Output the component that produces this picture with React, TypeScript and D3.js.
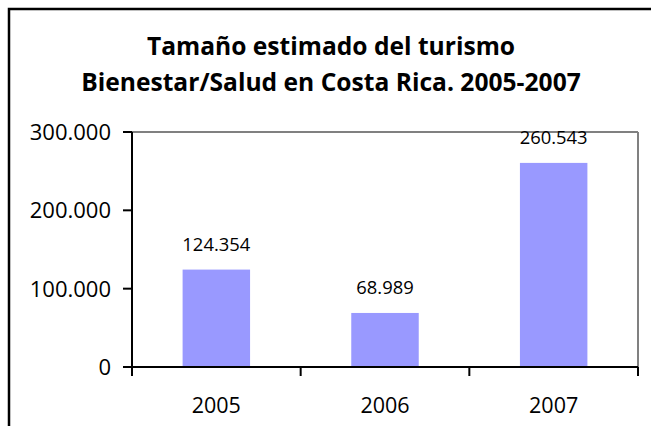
import React from 'react';
import * as d3 from 'd3';

const categories = ['2005', '2006', '2007'];
const values = [124354, 68989, 260543];
const yTicks = [0, 100000, 200000, 300000];
const titleLines = ['Tamaño estimado del turismo', 'Bienestar/Salud en Costa Rica. 2005-2007'];

const W = 651;
const H = 426;
const FONT = '"Open Sans", sans-serif';

const locale = d3.formatLocale({ decimal: ',', thousands: '.', grouping: [3], currency: ['', ''] });
const fmt = locale.format(',d');

export default function App() {
  const left = 132, right = 638, top = 132, bottom = 367;
  const x = d3.scaleBand<string>().domain(categories).range([left, right]).paddingInner(0.6).paddingOuter(0.3);
  const y = d3.scaleLinear().domain([0, 300000]).range([bottom, top]);
  const step = x.step();
  const boundaries = d3.range(categories.length + 1).map(i => left + i * step);

  return (
    <svg width={W} height={H} style={{ position: 'absolute', left: 0, top: 0, background: '#fff' }}>
      <rect x={0} y={0} width={W} height={H} fill="#fff" />
      <rect x={9} y={9} width={720} height={520} fill="none" stroke="#000" strokeWidth={2.5} />
      {titleLines.map((t, i) => (
        <text key={i} x={331} y={54.5 + i * 36.5} textAnchor="middle" fontFamily={FONT} fontWeight="bold" fontSize={24.6} fill="#000">{t}</text>
      ))}
      {/* plot area border (top/right) */}
      <line x1={left} x2={right} y1={top} y2={top} stroke="#808080" strokeWidth={2} />
      <line x1={right} x2={right} y1={top} y2={bottom} stroke="#808080" strokeWidth={2} />
      {/* bars */}
      {categories.map((c, i) => (
        <rect key={c} x={x(c)} y={y(values[i])} width={x.bandwidth()} height={bottom - y(values[i])} fill="#9999FF" />
      ))}
      {/* value labels */}
      {categories.map((c, i) => (
        <text key={c} x={(x(c) as number) + x.bandwidth() / 2} y={y(values[i]) - 19} textAnchor="middle" fontFamily={FONT} fontSize={18.4} fill="#000">{fmt(values[i])}</text>
      ))}
      {/* y axis */}
      <line x1={left} x2={left} y1={top} y2={bottom + 9} stroke="#000" strokeWidth={2} />
      {yTicks.map(t => (
        <g key={t}>
          <line x1={left - 9} x2={left} y1={y(t)} y2={y(t)} stroke="#000" strokeWidth={2} />
          <text x={111} y={y(t)} dy="0.36em" textAnchor="end" fontFamily={FONT} fontSize={22} fill="#000">{fmt(t)}</text>
        </g>
      ))}
      {/* x axis */}
      <line x1={left} x2={right} y1={bottom} y2={bottom} stroke="#000" strokeWidth={2} />
      {boundaries.map((b, i) => (
        <line key={i} x1={b} x2={b} y1={bottom} y2={bottom + 9} stroke="#000" strokeWidth={2} />
      ))}
      {categories.map(c => (
        <text key={c} x={(x(c) as number) + x.bandwidth() / 2} y={413} textAnchor="middle" fontFamily={FONT} fontSize={21.5} fill="#000">{c}</text>
      ))}
    </svg>
  );
}
